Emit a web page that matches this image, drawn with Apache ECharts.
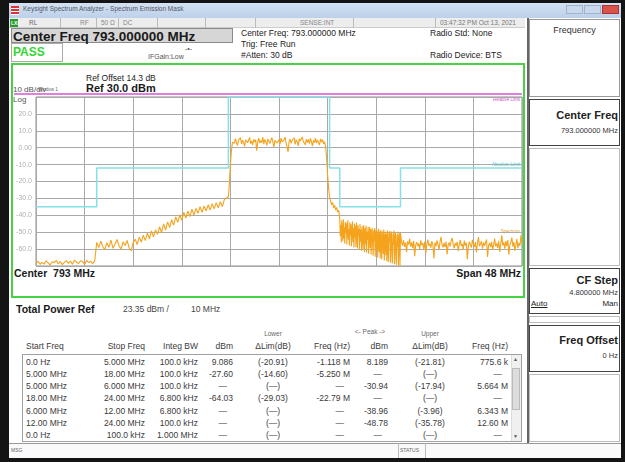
<!DOCTYPE html>
<html>
<head>
<meta charset="utf-8">
<script src="https://cdn.jsdelivr.net/npm/echarts@6/dist/echarts.min.js"></script>
<style>
html, body { margin: 0; padding: 0; }
body { width: 625px; height: 462px; background: #141414; position: relative; overflow: hidden; font-family: 'Liberation Sans', Arial, sans-serif; color: #222; }
.a { position: absolute; white-space: nowrap; line-height: 1; }
.r { text-align: right; }
.c { text-align: center; }
.box { position: absolute; box-sizing: border-box; }
.cell { position: absolute; white-space: nowrap; line-height: 1; font-size: 8.5px; color: #3a3a3a; }
</style>
</head>
<body>
<!-- window frame -->
<div class="box" style="left:9px;top:3px;width:612px;height:15px;background:linear-gradient(#d3e2f3,#bcd0ea);"></div>
<div class="box" style="left:11px;top:6px;width:8px;height:9px;background:repeating-linear-gradient(#d33 0 2px,#fff 2px 3px);"></div>
<div class="a" style="left:23px;top:6px;font-size:6.5px;color:#556;">Keysight Spectrum Analyzer - Spectrum Emission Mask</div>
<div class="box" style="left:566px;top:5px;width:17px;height:9px;background:#c9d8ec;border:1px solid #9fb3cf;"></div>
<div class="box" style="left:584px;top:5px;width:17px;height:9px;background:#c9d8ec;border:1px solid #9fb3cf;"></div>
<div class="box" style="left:602px;top:5px;width:17px;height:9px;background:#d9534a;border:1px solid #a33;"></div>

<!-- main white area -->
<div class="box" style="left:9px;top:18px;width:612px;height:440px;background:#fff;"></div>

<!-- status bar -->
<div class="box" style="left:9px;top:18px;width:516px;height:10px;background:#ededed;border-bottom:1px solid #ccc;"></div>
<div class="box" style="left:10px;top:19px;width:8px;height:8px;background:#2c9a2c;"></div>
<div class="a" style="left:11px;top:20.5px;font-size:5px;color:#fff;font-weight:bold;">LXI</div>
<div class="a" style="left:29px;top:20px;font-size:6.5px;color:#666;">RL</div>
<div class="box" style="left:60px;top:18px;width:1px;height:10px;background:#bbb;"></div>
<div class="a" style="left:80px;top:20px;font-size:6.5px;color:#888;">RF</div>
<div class="box" style="left:96px;top:18px;width:1px;height:10px;background:#bbb;"></div>
<div class="a" style="left:101px;top:20px;font-size:6.5px;color:#888;">50 Ω</div>
<div class="box" style="left:118px;top:18px;width:1px;height:10px;background:#bbb;"></div>
<div class="a" style="left:123px;top:20px;font-size:6.5px;color:#888;">DC</div>
<div class="box" style="left:157px;top:18px;width:1px;height:10px;background:#bbb;"></div>
<div class="box" style="left:205px;top:18px;width:1px;height:10px;background:#bbb;"></div>
<div class="box" style="left:255px;top:18px;width:1px;height:10px;background:#bbb;"></div>
<div class="a" style="left:300px;top:20px;font-size:6.5px;color:#888;">SENSE:INT</div>
<div class="box" style="left:353px;top:18px;width:1px;height:10px;background:#bbb;"></div>
<div class="box" style="left:435px;top:18px;width:1px;height:10px;background:#bbb;"></div>
<div class="a" style="left:440px;top:20px;font-size:6.5px;color:#777;">03:47:32 PM Oct 13, 2021</div>

<!-- header -->
<div class="box" style="left:11px;top:28px;width:222px;height:15px;background:#d6d6d6;border:1px solid #8a8a8a;"></div>
<div class="a" style="left:13px;top:29.5px;font-size:13.5px;font-weight:bold;color:#1a1a1a;">Center Freq 793.000000 MHz</div>
<div class="box" style="left:11px;top:43px;width:52px;height:19px;background:#fff;border:1px solid #aaa;"></div>
<div class="a" style="left:13px;top:46px;font-size:12px;font-weight:bold;color:#33d633;">PASS</div>
<div class="a" style="left:148px;top:53px;font-size:7px;color:#555;">IFGain:Low</div>
<div class="a" style="left:185px;top:45px;font-size:7px;color:#555;">-•-</div>
<div class="a" style="left:241px;top:29px;font-size:8.5px;color:#222;">Center Freq: 793.000000 MHz</div>
<div class="a" style="left:241px;top:40px;font-size:8.5px;color:#222;">Trig: Free Run</div>
<div class="a" style="left:241px;top:51px;font-size:8.5px;color:#222;">#Atten: 30 dB</div>
<div class="a" style="left:430px;top:29px;font-size:8.5px;color:#222;">Radio Std: None</div>
<div class="a" style="left:430px;top:51px;font-size:8.5px;color:#222;">Radio Device: BTS</div>

<!-- green plot frame -->
<div class="box" style="left:11px;top:63px;width:514px;height:235px;border:2px solid #45d345;"></div>
<div class="a" style="left:86px;top:74px;font-size:8.5px;color:#222;">Ref Offset 14.3 dB</div>
<div class="a" style="left:86px;top:83px;font-size:11px;font-weight:bold;color:#1a1a1a;">Ref 30.0 dBm</div>
<div class="a" style="left:13px;top:86px;font-size:8px;color:#555;">10 dB/div</div>
<div class="a" style="left:38px;top:87.5px;font-size:4.5px;color:#666;">Window 1</div>
<div class="box" style="left:14px;top:93px;width:508px;height:1.5px;background:#e27ee2;"></div>
<div class="a" style="left:13px;top:96px;font-size:8px;color:#555;">Log</div>
<div class="a" style="left:14px;top:268px;font-size:10.5px;font-weight:bold;color:#1a1a1a;">Center&nbsp; 793 MHz</div>
<div class="a r" style="left:400px;width:121px;top:268px;font-size:10.5px;font-weight:bold;color:#1a1a1a;">Span 48 MHz</div>
<div class="a r" style="left:470px;width:50px;top:98px;font-size:4.5px;color:#d050d0;">Relative Limit</div>
<div class="a r" style="left:470px;width:50px;top:163px;font-size:4.5px;color:#40c8d8;">Absolute Limit</div>
<div class="a r" style="left:470px;width:50px;top:230px;font-size:4.5px;color:#e89a20;">Spectrum</div>

<!-- summary -->
<div class="a" style="left:16px;top:304px;font-size:10.5px;font-weight:bold;color:#1a1a1a;">Total Power Ref</div>
<div class="a" style="left:123px;top:305px;font-size:8.5px;color:#444;">23.35 dBm /</div>
<div class="a" style="left:191px;top:305px;font-size:8.5px;color:#444;">10 MHz</div>

<!-- result table -->
<div class="box" style="left:22px;top:354px;width:500px;height:88px;border:1px solid #a0a0a0;"></div>
<div class="box" style="left:511px;top:355px;width:10px;height:86px;background:#f0f0f0;border-left:1px solid #ddd;"></div>
<div class="box" style="left:512px;top:368px;width:8px;height:42px;background:#dcdcdc;border:1px solid #bbb;"></div>
<div class="a" style="left:513px;top:357px;font-size:5px;color:#555;">▲</div>
<div class="a" style="left:513px;top:434px;font-size:5px;color:#555;">▼</div>
<div id="table"></div>

<!-- bottom status -->
<div class="box" style="left:9px;top:443px;width:612px;height:15px;background:#fafafa;border-top:1px solid #999;"></div>
<div class="a" style="left:11px;top:448px;font-size:5px;color:#666;">MSG</div>
<div class="box" style="left:398px;top:443px;width:28px;height:15px;border-left:1px solid #bbb;border-right:1px solid #bbb;"></div>
<div class="a" style="left:400px;top:448px;font-size:5px;color:#666;">STATUS</div>

<!-- soft key panel -->
<div class="box" style="left:527px;top:18px;width:94px;height:425px;background:#fff;border-left:2px solid #666;"></div>
<div class="box" style="left:529px;top:19px;width:91px;height:78px;border:1px solid #999;"></div>
<div class="a c" style="left:529px;width:91px;top:26px;font-size:9px;color:#333;">Frequency</div>
<div class="box" style="left:529px;top:99px;width:91px;height:47px;border:1px solid #444;"></div>
<div class="a r" style="left:529px;width:89px;top:110px;font-size:11px;font-weight:bold;color:#222;">Center Freq</div>
<div class="a r" style="left:529px;width:89px;top:127px;font-size:7.5px;color:#333;">793.000000 MHz</div>
<div class="box" style="left:529px;top:148px;width:91px;height:118px;border:1px solid #bbb;"></div>
<div class="box" style="left:529px;top:268px;width:91px;height:46px;border:1px solid #444;"></div>
<div class="a r" style="left:529px;width:89px;top:275px;font-size:11px;font-weight:bold;color:#222;">CF Step</div>
<div class="a r" style="left:529px;width:89px;top:289px;font-size:7.5px;color:#333;">4.800000 MHz</div>
<div class="a" style="left:531px;top:300px;font-size:8px;color:#222;text-decoration:underline;">Auto</div>
<div class="a r" style="left:529px;width:89px;top:300px;font-size:8px;color:#222;">Man</div>
<div class="box" style="left:529px;top:316px;width:91px;height:7px;border:1px solid #bbb;"></div>
<div class="box" style="left:529px;top:325px;width:91px;height:47px;border:1px solid #444;"></div>
<div class="a r" style="left:529px;width:89px;top:335px;font-size:11px;font-weight:bold;color:#222;">Freq Offset</div>
<div class="a r" style="left:529px;width:89px;top:352px;font-size:7.5px;color:#333;">0 Hz</div>
<div class="box" style="left:529px;top:374px;width:91px;height:68px;border:1px solid #bbb;"></div>

<div id="chart" style="position:absolute;left:0;top:0;width:625px;height:462px;"></div>

<script>
// ---------- data read from the screen ----------
// offsets from the 793 MHz centre, in MHz
let maskFreq = [-24, -18, -18, -5, -5, 5, 5, 6, 6, 12, 12, 24];
let maskLevel = [-35, -35, -12, -12, 30, 30, -12, -12, -35, -35, -12, -12];

// trace pieces: start offset (MHz), step (MHz), levels (dBm)
let floorStart = -24, floorStep = 0.2;
let floorLevel = [-68.5, -67.2, -69.0, -67.8, -68.9, -66.9, -68.2, -69.4, -67.5, -68.0,
	-66.6, -68.8, -67.3, -69.2, -67.9, -66.8, -68.4, -67.1, -69.0, -66.5,
	-67.8, -68.6, -66.9, -67.4, -69.1, -66.7, -68.0, -67.2, -68.7, -66.8];

let lowerStart = -18, lowerStep = 0.2;
let lowerLevel = [-56.0, -59.1, -55.3, -58.6, -60.4, -56.2, -58.9, -54.7, -59.5, -57.1,
	-54.3, -58.0, -60.1, -55.6, -57.9, -54.9, -59.2, -61.0, -56.0, -54.2,
	-57.4, -52.9, -55.8, -51.7, -55.0, -50.6, -53.9, -49.2, -52.8, -48.6,
	-51.3, -46.8, -50.2, -45.1, -48.7, -43.9, -47.3, -42.6, -45.8, -40.9,
	-44.2, -39.8, -42.9, -38.3, -41.6, -37.6, -40.8, -36.4, -39.9, -35.9,
	-38.8, -34.9, -38.2, -34.6, -37.3, -33.8, -36.9, -33.1, -36.2, -32.5,
	-35.6, -31.9, -34.8, -30.7, -29.8];

let carrierStart = -5, carrierStep = 0.1;
let carrierLevel = [-29.0, -21.0, -10.0, -2.0, 3.2,
	4.1, 2.6, 5.3, 3.0, 1.2, 4.8, 3.7, 5.9, 2.2, 4.4,
	3.1, 0.8, 4.6, 5.5, 2.9, 3.8, 6.1, 2.4, 4.0, 1.6,
	5.0, 3.3, 4.7, -1.8, 3.5, 5.6, 2.7, 4.2, 3.0, 6.3,
	2.1, 4.9, 3.6, 1.4, 5.2, 3.9, 2.5, 4.5, 6.0, 3.2,
	0.5, 4.3, 5.4, 2.8, 3.7, 4.8, 1.9, 5.7, 3.4, 2.3,
	4.6, 6.2, 3.0, 4.1, -2.4, 3.8, 5.1, 2.6, 4.4, 3.3,
	5.8, 2.0, 4.7, 3.5, 1.1, 5.3, 4.0, 2.9, 6.4, 3.6,
	4.2, 1.7, 5.0, 3.1, 4.9, 2.4, 5.5, 3.8, 0.9, 4.3,
	3.0, 5.6, 2.7, 4.6, 3.9, 1.5, 5.2, 3.4, 4.8, 2.2,
	3.6,
	1.0, -6.0, -16.0, -24.0, -29.5];

let shoulderStart = 5.1, shoulderStep = 0.1;
let shoulderLevel = [-31.5, -33.8, -32.4, -35.6, -34.1, -36.9, -35.3, -38.2, -37.0];

let bandStart = 6, bandStep = 0.05;
let bandLevel = [-41.8, -52.3, -45.6, -56.1, -43.0, -49.8, -55.2, -42.4, -53.7, -47.1,
	-56.8, -43.9, -50.6, -44.7, -57.3, -46.2, -42.9, -54.5, -48.3, -57.9,
	-44.1, -51.9, -45.3, -58.4, -49.0, -43.6, -55.9, -47.5, -59.0, -44.8,
	-53.1, -46.0, -58.7, -44.3, -50.8, -59.6, -45.7, -52.4, -47.9, -60.2,
	-45.2, -55.6, -48.6, -61.0, -46.4, -53.8, -60.3, -45.9, -51.2, -61.7,
	-47.3, -57.2, -46.1, -62.2, -49.7, -54.6, -47.0, -62.8, -52.0, -46.8,
	-59.3, -48.1, -63.4, -50.5, -47.4, -57.8, -63.9, -48.9, -55.3, -47.6,
	-64.5, -51.4, -48.3, -60.6, -49.2, -65.0, -53.7, -47.9, -61.8, -50.1,
	-65.6, -48.7, -56.9, -66.1, -49.5, -52.8, -62.9, -48.4, -66.7, -54.2,
	-49.8, -63.7, -51.1, -67.2, -48.9, -58.5, -67.6, -50.4, -55.7, -49.3,
	-68.1, -52.6, -49.6, -64.4, -68.5, -50.9, -57.4, -49.0, -68.9, -53.3,
	-50.2, -65.8, -69.3, -51.5, -58.8, -49.7, -69.7, -55.0, -50.6, -69.9];

let upperStart = 12, upperStep = 0.1;
let upperLevel = [-50.5, -55.8, -57.9, -54.6, -58.7, -56.2, -61.8, -55.4, -57.3, -53.9,
	-58.6, -56.0, -59.4, -55.1, -64.2, -57.5, -55.9, -58.3, -56.6, -60.1,
	-54.8, -57.7, -56.4, -59.9, -55.6, -62.6, -57.0, -54.4, -58.1, -56.8,
	-59.2, -55.3, -57.6, -65.5, -56.1, -58.4, -54.9, -57.2, -60.3, -55.8,
	-52.7, -57.4, -59.0, -56.3, -58.8, -55.5, -63.1, -57.8, -56.0, -58.6,
	-55.2, -53.4, -57.1, -59.6, -56.5, -58.0, -55.7, -61.2, -57.3, -54.7,
	-58.2, -56.9, -60.4, -55.0, -57.9, -56.2, -66.0, -58.5, -55.6, -57.4,
	-59.1, -54.5, -57.0, -58.7, -55.9, -62.0, -56.7, -52.9, -58.3, -57.6,
	-55.4, -59.8, -56.1, -58.1, -57.2, -54.3, -64.6, -57.9, -56.4, -58.9,
	-55.7, -60.5, -57.3, -53.8, -58.4, -56.6, -59.3, -55.1, -61.7, -57.0,
	-51.9, -57.8, -56.0, -59.7, -55.3, -58.2, -54.6, -63.3, -57.5, -56.1,
	-53.2, -58.6, -55.8, -60.9, -57.4, -54.0, -59.5, -56.3, -58.0, -51.8,
	-56.5];

// y tick labels
let yTicks = [30, 20, 10, 0, -10, -20, -30, -40, -50, -60, -70];
let yTickText = ['', '20.0', '10.0', '0.00', '-10.0', '-20.0', '-30.0', '-40.0', '-50.0', '-60.0', ''];

// table
let tableHead = ['Start Freq', 'Stop Freq', 'Integ BW', 'dBm', 'ΔLim(dB)', 'Freq (Hz)', 'dBm', 'ΔLim(dB)', 'Freq (Hz)'];
let tableRows = [
	['0.0 Hz', '5.000 MHz', '100.0 kHz', '9.086', '(-20.91)', '-1.118 M', '8.189', '(-21.81)', '775.6 k'],
	['5.000 MHz', '18.00 MHz', '100.0 kHz', '-27.60', '(-14.60)', '-5.250 M', '—', '(—)', '—'],
	['5.000 MHz', '6.000 MHz', '100.0 kHz', '—', '(—)', '—', '-30.94', '(-17.94)', '5.664 M'],
	['18.00 MHz', '24.00 MHz', '6.800 kHz', '-64.03', '(-29.03)', '-22.79 M', '—', '(—)', '—'],
	['6.000 MHz', '12.00 MHz', '6.800 kHz', '—', '(—)', '—', '-38.96', '(-3.96)', '6.343 M'],
	['12.00 MHz', '24.00 MHz', '100.0 kHz', '—', '(—)', '—', '-48.78', '(-35.78)', '12.60 M'],
	['0.0 Hz', '100.0 kHz', '1.000 MHz', '—', '(—)', '—', '—', '(—)', '—']
];

// ---------- table text ----------
(function() {
	// column anchor x and alignment
	let cols = [[26, 'l'], [145, 'r'], [198, 'r'], [233, 'r'], [273, 'c'], [350, 'r'], [388, 'r'], [430, 'c'], [508, 'r']];
	let rowY = [357.5, 369.5, 382, 394, 406.5, 418.5, 430.5];
	let box = document.getElementById('table');
	function put(text, col, y, size, color) {
		let d = document.createElement('div');
		d.className = 'cell';
		d.textContent = text;
		d.style.top = y + 'px';
		if (size) d.style.fontSize = size + 'px';
		if (color) d.style.color = color;
		let x = col[0];
		if (col[1] === 'l') {
			d.style.left = x + 'px';
		} else if (col[1] === 'r') {
			d.style.left = (x - 100) + 'px'; d.style.width = '100px'; d.style.textAlign = 'right';
		} else {
			d.style.left = (x - 50) + 'px'; d.style.width = '100px'; d.style.textAlign = 'center';
		}
		box.appendChild(d);
	}
	tableHead.forEach(function(t, i) { put(t, cols[i], 342); });
	put('Lower', cols[4], 331, 6.5, '#666');
	put('<- Peak ->', [370, 'c'], 329, 6.5, '#666');
	put('Upper', cols[7], 331, 6.5, '#666');
	tableRows.forEach(function(row, r) {
		row.forEach(function(t, i) {
			let col = cols[i];
			// dashes sit a little left of the numbers
			if (t === '—' && col[1] === 'r') col = [col[0] - 6, 'r'];
			put(t, col, rowY[r]);
		});
	});
})();

// ---------- spectrum plot ----------
(function() {
	// 1. init
	let myChart = echarts.init(document.getElementById('chart'));

	function toPairs(start, step, levels) {
		return levels.map(function(v, i) { return [+(start + i * step).toFixed(3), v]; });
	}
	let trace = [].concat(
		toPairs(floorStart, floorStep, floorLevel),
		toPairs(lowerStart, lowerStep, lowerLevel),
		toPairs(carrierStart, carrierStep, carrierLevel),
		toPairs(shoulderStart, shoulderStep, shoulderLevel),
		toPairs(bandStart, bandStep, bandLevel),
		toPairs(upperStart, upperStep, upperLevel)
	);
	let mask = maskFreq.map(function(f, i) { return [f, maskLevel[i]]; });

	// 2. option
	let option = {
		animation: false,
		grid: {
			left: 36,
			top: 97,
			width: 486,
			height: 169,
			show: true,
			borderColor: '#8c8c8c',
			borderWidth: 1
		},
		xAxis: {
			type: 'value',
			min: -24,
			max: 24,
			interval: 4.8,
			axisLabel: { show: false },
			axisTick: { show: false },
			axisLine: { show: false },
			splitLine: { lineStyle: { color: '#a9a9a9', width: 1 } }
		},
		yAxis: {
			type: 'value',
			min: -70,
			max: 30,
			interval: 10,
			axisTick: { show: false },
			axisLine: { show: false },
			axisLabel: {
				color: '#b0b0b0',
				fontSize: 7,
				margin: 4,
				fontFamily: 'Liberation Sans',
				formatter: function(v) {
					let i = yTicks.indexOf(v);
					return i < 0 ? '' : yTickText[i];
				}
			},
			splitLine: { lineStyle: { color: '#a9a9a9', width: 1 } }
		},
		series: [
			{
				name: 'Absolute Limit',
				type: 'line',
				data: mask,
				symbol: 'none',
				lineStyle: { color: '#86e0e8', width: 1.5 },
				z: 2
			},
			{
				name: 'Spectrum',
				type: 'line',
				data: trace,
				symbol: 'none',
				clip: true,
				lineStyle: { color: '#f5a31c', width: 1.1 },
				z: 3
			}
		]
	};

	// 3. set
	myChart.setOption(option);
})();
</script>
</body>
</html>
